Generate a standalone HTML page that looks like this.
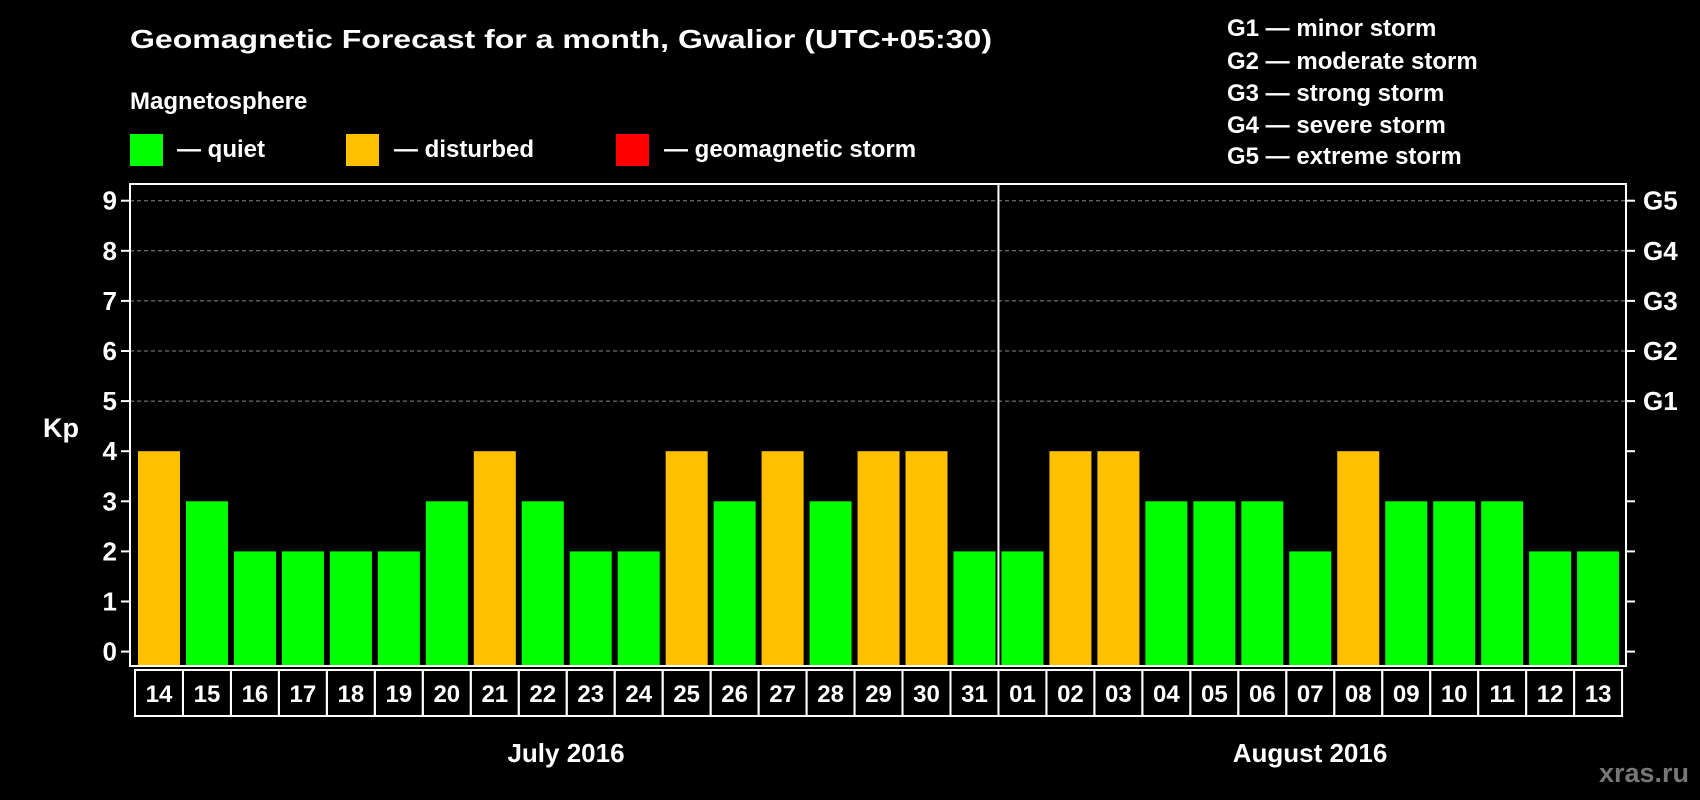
<!DOCTYPE html>
<html><head><meta charset="utf-8"><style>
html,body{margin:0;padding:0;background:#000;width:1700px;height:800px;overflow:hidden}
svg{display:block;font-family:"Liberation Sans",Arial,sans-serif;font-weight:bold}
</style></head><body>
<svg id="chart" width="1700" height="800" xmlns="http://www.w3.org/2000/svg">
<rect width="1700" height="800" fill="#000"/>
<text x="130" y="48" fill="#fff" font-size="26" textLength="862" lengthAdjust="spacingAndGlyphs">Geomagnetic Forecast for a month, Gwalior (UTC+05:30)</text>
<text x="130" y="109" fill="#fff" font-size="24">Magnetosphere</text>
<rect x="130" y="134" width="33" height="32" fill="#00ff00"/>
<text x="177" y="157" fill="#fff" font-size="24">— quiet</text>
<rect x="346" y="134" width="33" height="32" fill="#ffc000"/>
<text x="394" y="157" fill="#fff" font-size="24">— disturbed</text>
<rect x="616" y="134" width="33" height="32" fill="#ff0000"/>
<text x="664" y="157" fill="#fff" font-size="24">— geomagnetic storm</text>
<g fill="#fff" font-size="24">
<text x="1227" y="36">G1 — minor storm</text>
<text x="1227" y="69">G2 — moderate storm</text>
<text x="1227" y="101">G3 — strong storm</text>
<text x="1227" y="133">G4 — severe storm</text>
<text x="1227" y="164">G5 — extreme storm</text>
</g>
<text x="43" y="437" fill="#fff" font-size="27">Kp</text>
<text x="566" y="762" fill="#fff" font-size="26" text-anchor="middle">July 2016</text>
<text x="1310" y="762" fill="#fff" font-size="26" text-anchor="middle">August 2016</text>
<text x="1689" y="782" fill="#777" font-size="27" text-anchor="end">xras.ru</text>
<g id="plot"></g>
</svg>
<script>
const days=["14","15","16","17","18","19","20","21","22","23","24","25","26","27","28","29","30","31","01","02","03","04","05","06","07","08","09","10","11","12","13"];
const kp=[4,3,2,2,2,2,3,4,3,2,2,4,3,4,3,4,4,2,2,4,4,3,3,3,2,4,3,3,3,2,2];
const yTicks=[0,1,2,3,4,5,6,7,8,9];
const gLabels=["G1","G2","G3","G4","G5"];
const gLevels=[5,6,7,8,9];
const NS="http://www.w3.org/2000/svg";
const g=document.getElementById('plot');
const L=130,R=1626,T=184,B=666,x0=138,step=47.97,bw=42;
const y=v=>651.6-v*50.1;
const x=i=>x0+i*step;
function mk(t,a){const e=document.createElementNS(NS,t);for(const k in a)e.setAttribute(k,a[k]);g.appendChild(e);return e;}
yTicks.forEach(v=>{
  if(v>=5){const l=mk('line',{x1:L,x2:R,y1:y(v),y2:y(v),stroke:'#888','stroke-dasharray':'4,3','stroke-width':1});
  
  }
  const t=mk('line',{x1:L-9,x2:L,y1:y(v),y2:y(v),stroke:'#fff','stroke-width':2});
  
  
  const r=mk('line',{x1:R,x2:R+9,y1:y(v),y2:y(v),stroke:'#fff','stroke-width':2});
  
  
  const tx=mk('text',{x:117,y:y(v)+9,fill:'#fff','font-size':26,'text-anchor':'end'});
  tx.textContent=v;
  
  
});
gLevels.forEach((v,i)=>{
  const tx=mk('text',{x:1643,y:y(v)+9,fill:'#fff','font-size':26});
  tx.textContent=gLabels[i];
  
  
});
kp.forEach((v,i)=>{
  const b=mk('rect',{x:x(i),y:y(v),width:bw,height:B-y(v),fill:v>=5?'#ff0000':(v>=4?'#ffc000':'#00ff00')});
  
  
  const c=mk('rect',{x:x(i)-3,y:670,width:step,height:46,fill:'none',stroke:'#fff','stroke-width':2});
  
  
  const t=mk('text',{x:x(i)+bw/2,y:702,fill:'#fff','font-size':24,'text-anchor':'middle'});
  t.textContent=days[i];
  
  
});
const f=mk('rect',{x:L,y:T,width:R-L,height:B-T,fill:'none',stroke:'#fff','stroke-width':2});


const dv=days.indexOf("01");
const d=mk('line',{x1:x(dv)-3,x2:x(dv)-3,y1:T,y2:B,stroke:'#fff','stroke-width':2});


</script>
</body></html>
